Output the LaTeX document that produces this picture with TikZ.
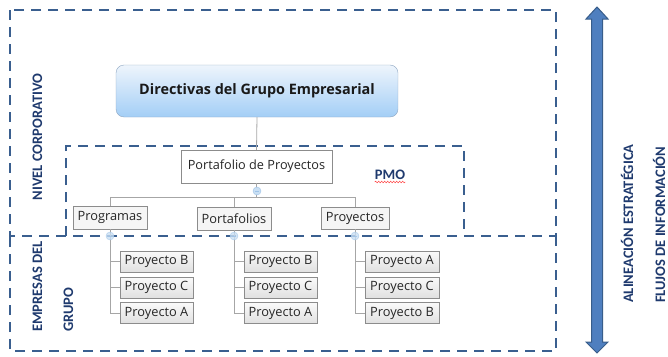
\documentclass[tikz,border=0pt]{standalone}
\usepackage{fontspec}
\setmainfont{Carlito}
\newfontfamily\treefont{Open Sans}
\newfontfamily\lblfont{Carlito}
\usetikzlibrary{decorations.pathmorphing}
\definecolor{dashblue}{HTML}{3A5F8F}
\definecolor{navy}{HTML}{1F3A6E}
\definecolor{arrowfill}{HTML}{4F7FBF}
\definecolor{arrowborder}{HTML}{385D8A}
\definecolor{boxline}{HTML}{8C8C8C}
\definecolor{conn}{HTML}{A6A6A6}
\definecolor{dirtop}{HTML}{EEF5FC}
\definecolor{dirbot}{HTML}{A3CEF6}
\definecolor{dirline}{HTML}{8EA6C2}
\definecolor{knobfill}{HTML}{C9DFF3}
\definecolor{knobline}{HTML}{9EC3E8}
\begin{document}
\begin{tikzpicture}[x=1pt,y=-1pt,
  zone/.style={draw=dashblue,line width=2.6pt,dash pattern=on 10pt off 7pt},
  lbl/.style={font=\lblfont\bfseries\fontsize{14.5}{16}\selectfont,text=navy,inner sep=0pt},
  vlbl/.style={lbl,rotate=90},
  dirbox/.style={draw=dirline,rounded corners=8pt,top color=dirtop,bottom color=dirbot,
    minimum width=282pt,minimum height=52pt,text=black!90,
    font=\treefont\bfseries\fontsize{14.4}{16}\selectfont},
  portbox/.style={draw=boxline,fill=white,minimum width=151pt,minimum height=33pt,
    font=\treefont\fontsize{12.7}{14}\selectfont,text=black!85},
  midbox/.style={draw=boxline,fill=black!4,minimum height=23pt,
    font=\treefont\fontsize{12.8}{14}\selectfont,text=black!85,inner sep=1pt},
  leafbox/.style={draw=boxline,top color=black!2,bottom color=black!12,
    minimum width=73pt,minimum height=21pt,inner sep=1pt,
    font=\treefont\fontsize{12.8}{14}\selectfont,text=black!85},
  conline/.style={draw=conn,line width=0.8pt},
  knob/.style={circle,draw=knobline,fill=knobfill,minimum size=8pt,inner sep=0pt,
    path picture={\draw[knobline,line width=0.6pt] ([xshift=-2pt]path picture bounding box.center) -- ([xshift=2pt]path picture bounding box.center);}}
]
\useasboundingbox (0,0) rectangle (668,356);

% zones
\draw[zone] (10,10) rectangle (556,236);
\draw[zone] (556,236) -- (556,351) -- (10,351) -- (10,236);
\draw[zone] (66,236) -- (66,146) -- (464,146) -- (464,236);

% top nodes
\node[dirbox] (dir) at (257,91) {Directivas del Grupo Empresarial};
\node[portbox] (port) at (256.5,166.5) {Portafolio de Proyectos};
\draw[conline] (dir.south) -- (port.north);

\coordinate (hl) at (110,197);
\coordinate (hr) at (355,197);
\node[midbox,minimum width=74pt] (prog) at (110,217.5) {Programas};
\node[midbox,minimum width=74pt] (portf) at (234,218.5) {Portafolios};
\node[midbox,minimum width=68pt,minimum height=22pt] (proy) at (355,218) {Proyectos};

\draw[conline] (port.south) -- (port.south |- hl);
\draw[conline] (prog.north) -- (hl) -- (hr) -- (proy.north);
\draw[conline] (portf.north) -- (portf.north |- hl);
\node[knob] (k0) at (257,191) {};

% leaves column 1
\node[leafbox] (a1) at (156.5,261.5) {Proyecto B};
\node[leafbox] (a2) at (156.5,287.5) {Proyecto C};
\node[leafbox] (a3) at (156.5,313) {Proyecto A};
\draw[conline] (prog.south) -- (prog.south |- a3.west) -- (a3.west);
\draw[conline] (prog.south |- a1.west) -- (a1.west);
\draw[conline] (prog.south |- a2.west) -- (a2.west);
% column 2
\node[leafbox] (b1) at (280.5,261.5) {Proyecto B};
\node[leafbox] (b2) at (280.5,287.5) {Proyecto C};
\node[leafbox] (b3) at (280.5,313) {Proyecto A};
\draw[conline] (portf.south) -- (portf.south |- b3.west) -- (b3.west);
\draw[conline] (portf.south |- b1.west) -- (b1.west);
\draw[conline] (portf.south |- b2.west) -- (b2.west);
% column 3
\node[leafbox,minimum width=74pt] (c1) at (402,261.5) {Proyecto A};
\node[leafbox,minimum width=74pt] (c2) at (402,287.5) {Proyecto C};
\node[leafbox,minimum width=74pt] (c3) at (402,313) {Proyecto B};
\draw[conline] (proy.south) -- (proy.south |- c3.west) -- (c3.west);
\draw[conline] (proy.south |- c1.west) -- (c1.west);
\draw[conline] (proy.south |- c2.west) -- (c2.west);

\node[knob,opacity=0.8] (k1) at (110,236) {};
\node[knob,opacity=0.8] (k2) at (234,236) {};
\node[knob,opacity=0.8] (k3) at (355,236) {};

% labels
\node[lbl] (pmo) at (390,175) {PMO};
\draw[red!80,line width=0.5pt,decorate,decoration={snake,amplitude=0.8pt,segment length=3pt}]
  ([yshift=-2pt]pmo.south west) -- ([yshift=-2pt]pmo.south east);
\node[vlbl,anchor=base] (niv) at (42,137) {NIVEL CORPORATIVO};
\node[vlbl,anchor=base west] (emp) at (42,332) {EMPRESAS DEL};
\node[vlbl,anchor=base west] (gru) at (73,332) {GRUPO};
\node[vlbl,anchor=base west] (ali) at (633,303) {ALINEACIÓN ESTRATÉGICA};
\node[vlbl,anchor=base west] (flu) at (665,303) {FLUJOS DE INFORMACIÓN};

% double arrow
\draw[fill=arrowfill,draw=arrowborder,line width=1pt,line join=miter]
  (597,7) -- (608,19) -- (602.5,19) -- (602.5,342) -- (608,342) -- (597,353)
  -- (586,342) -- (591.5,342) -- (591.5,19) -- (586,19) -- cycle;
\end{tikzpicture}
\end{document}
